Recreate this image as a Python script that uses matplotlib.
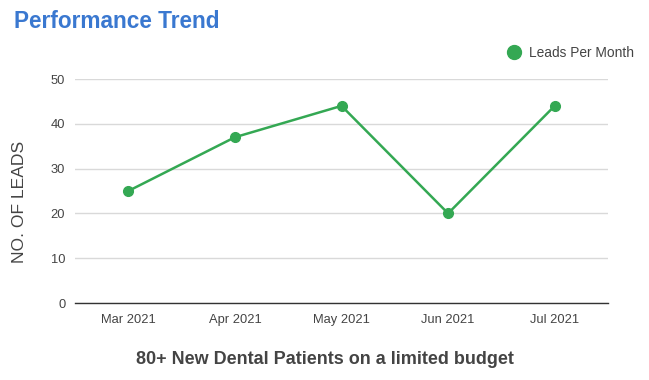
import matplotlib.pyplot as plt

months = ["Mar 2021", "Apr 2021", "May 2021", "Jun 2021", "Jul 2021"]
leads = [25, 37, 44, 20, 44]
yticks = [0, 10, 20, 30, 40, 50]

plt.rcParams["font.family"] = ["Liberation Sans", "DejaVu Sans"]

green = "#34a853"
grey = "#444444"

fig = plt.figure(figsize=(6.49, 3.8), dpi=100)
ax = fig.add_axes([75 / 649, 1 - 303 / 380, 533 / 649, 224 / 380])

x = list(range(len(months)))
ax.plot(x, leads, color=green, linewidth=1.8, marker="o", markersize=7,
        label="Leads Per Month")

ax.set_xlim(-0.5, len(months) - 0.5)
ax.set_ylim(0, 50)
ax.set_yticks(yticks)
ax.set_xticks(x)
ax.set_xticklabels(months)
ax.tick_params(length=0, labelsize=9.3, colors=grey, pad=8)
ax.tick_params(axis="y", pad=7)

ax.grid(axis="y", color="#d9d9d9", linewidth=1)
ax.set_axisbelow(True)
for s in ["top", "right", "left"]:
    ax.spines[s].set_visible(False)
ax.spines["bottom"].set_color("#333333")
ax.spines["bottom"].set_linewidth(1)

ax.set_ylabel("NO. OF LEADS", fontsize=12.6, color=grey, labelpad=10)
ax.yaxis.set_label_coords(-0.09, 0.45)

fig.text(0.5, 1 - 359 / 380, "80+ New Dental Patients on a limited budget",
         fontsize=13, color=grey, fontweight="bold", ha="center", va="center")

fig.text(14 / 649, 1 - 21 / 380, "Performance Trend", fontsize=16.3,
         fontweight="bold", color="#3a78d0", va="center", ha="left")

leg = ax.legend(loc="lower right", bbox_to_anchor=(1.06, 1.06), frameon=False,
                fontsize=9.9, handlelength=1, handletextpad=0.6,
                borderaxespad=0)
leg.get_lines()[0].set_linestyle("none")
leg.get_lines()[0].set_markersize(10)
for t in leg.get_texts():
    t.set_color(grey)

fig.savefig("out.png", dpi=100)
